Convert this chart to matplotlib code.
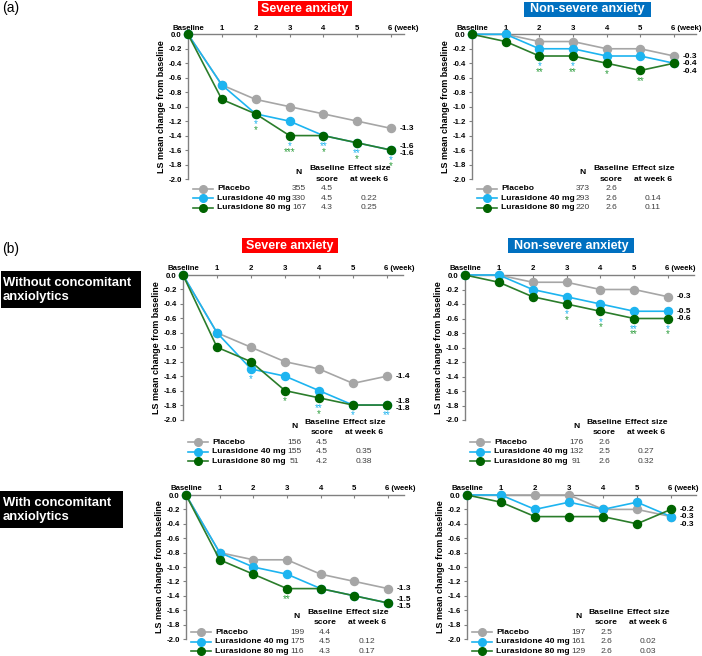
import matplotlib
matplotlib.use('Agg')
import matplotlib.pyplot as plt
from matplotlib.patches import Rectangle
from matplotlib.lines import Line2D

plt.rcParams['font.family'] = ['Liberation Sans', 'DejaVu Sans']

W, H = 702, 656

# ---------------- data ----------------
weeks = [0, 1, 2, 3, 4, 5, 6]
week_labels = ['Baseline', '1', '2', '3', '4', '5', '6 (week)']
ytick_vals = [0.0, -0.2, -0.4, -0.6, -0.8, -1.0, -1.2, -1.4, -1.6, -1.8, -2.0]
series_names = ['Placebo', 'Lurasidone 40 mg', 'Lurasidone 80 mg']

# (a) severe anxiety
a_sev_placebo = [0, -0.7, -0.9, -1.0, -1.1, -1.2, -1.3]
a_sev_40 = [0, -0.7, -1.1, -1.2, -1.4, -1.5, -1.6]
a_sev_80 = [0, -0.9, -1.1, -1.4, -1.4, -1.5, -1.6]
a_sev_N = ['355', '330', '167']
a_sev_base = ['4.5', '4.5', '4.3']
a_sev_eff = ['', '0.22', '0.25']
a_sev_sig_weeks = [2, 3, 4, 5, 6]
a_sev_sig_40 = ['*', '*', '**', '**', '*']
a_sev_sig_80 = ['*', '***', '*', '*', '*']

# (a) non-severe anxiety
a_non_placebo = [0, 0, -0.1, -0.1, -0.2, -0.2, -0.3]
a_non_40 = [0, 0, -0.2, -0.2, -0.3, -0.3, -0.4]
a_non_80 = [0, -0.1, -0.3, -0.3, -0.4, -0.5, -0.4]
a_non_N = ['373', '293', '220']
a_non_base = ['2.6', '2.6', '2.6']
a_non_eff = ['', '0.14', '0.11']
a_non_sig_weeks = [2, 3, 4, 5]
a_non_sig_40 = ['*', '*', '', '']
a_non_sig_80 = ['**', '**', '*', '**']

# (b) without concomitant anxiolytics, severe
bwo_sev_placebo = [0, -0.8, -1.0, -1.2, -1.3, -1.5, -1.4]
bwo_sev_40 = [0, -0.8, -1.3, -1.4, -1.6, -1.8, -1.8]
bwo_sev_80 = [0, -1.0, -1.2, -1.6, -1.7, -1.8, -1.8]
bwo_sev_N = ['156', '155', '51']
bwo_sev_base = ['4.5', '4.5', '4.2']
bwo_sev_eff = ['', '0.35', '0.38']
bwo_sev_sig_weeks = [2, 3, 4, 5, 6]
bwo_sev_sig_40 = ['*', '', '**', '*', '**']
bwo_sev_sig_80 = ['', '*', '*', '', '']

# (b) without concomitant anxiolytics, non-severe
bwo_non_placebo = [0, 0, -0.1, -0.1, -0.2, -0.2, -0.3]
bwo_non_40 = [0, 0, -0.2, -0.3, -0.4, -0.5, -0.5]
bwo_non_80 = [0, -0.1, -0.3, -0.4, -0.5, -0.6, -0.6]
bwo_non_N = ['176', '132', '91']
bwo_non_base = ['2.6', '2.5', '2.6']
bwo_non_eff = ['', '0.27', '0.32']
bwo_non_sig_weeks = [3, 4, 5, 6]
bwo_non_sig_40 = ['*', '*', '**', '*']
bwo_non_sig_80 = ['*', '*', '**', '*']

# (b) with concomitant anxiolytics, severe
bw_sev_placebo = [0, -0.8, -0.9, -0.9, -1.1, -1.2, -1.3]
bw_sev_40 = [0, -0.8, -1.0, -1.1, -1.3, -1.4, -1.5]
bw_sev_80 = [0, -0.9, -1.1, -1.3, -1.3, -1.4, -1.5]
bw_sev_N = ['199', '175', '116']
bw_sev_base = ['4.4', '4.5', '4.3']
bw_sev_eff = ['', '0.12', '0.17']
bw_sev_sig_weeks = [3]
bw_sev_sig_40 = ['']
bw_sev_sig_80 = ['**']

# (b) with concomitant anxiolytics, non-severe
bw_non_placebo = [0, 0, 0, 0, -0.2, -0.2, -0.3]
bw_non_40 = [0, 0, -0.2, -0.1, -0.2, -0.1, -0.3]
bw_non_80 = [0, -0.1, -0.3, -0.3, -0.3, -0.4, -0.2]
bw_non_N = ['197', '161', '129']
bw_non_base = ['2.5', '2.6', '2.6']
bw_non_eff = ['', '0.02', '0.03']
bw_non_sig_weeks = []
bw_non_sig_40 = []
bw_non_sig_80 = []

# ---------------- style ----------------
c_pl = '#A6A6A6'
c_40 = '#1DB4F0'
c_80_line = '#2B7D2B'
c_80_mark = '#006400'
line_colors = [c_pl, c_40, c_80_line]
mark_colors = [c_pl, c_40, c_80_mark]
sig_colors = [c_40, '#2E9E3E']
axis_col = '#808080'
TFS = 6.1  # table font size


def fx(px):
    return px / W


def fy(py):
    return 1 - py / H


fig = plt.figure(figsize=(W / 100, H / 100), dpi=100)

panels = [
    dict(L=188, R=404, T=34.3, B=179, w6=391, ly=188.5,
         s=[a_sev_placebo, a_sev_40, a_sev_80], N=a_sev_N, base=a_sev_base, eff=a_sev_eff,
         sw=a_sev_sig_weeks, s40=a_sev_sig_40, s80=a_sev_sig_80),
    dict(L=472, R=696, T=34.3, B=179, w6=674, ly=188.5,
         s=[a_non_placebo, a_non_40, a_non_80], N=a_non_N, base=a_non_base, eff=a_non_eff,
         sw=a_non_sig_weeks, s40=a_non_sig_40, s80=a_non_sig_80),
    dict(L=183, R=403, T=275, B=419.5, w6=387, ly=442,
         s=[bwo_sev_placebo, bwo_sev_40, bwo_sev_80], N=bwo_sev_N, base=bwo_sev_base, eff=bwo_sev_eff,
         sw=bwo_sev_sig_weeks, s40=bwo_sev_sig_40, s80=bwo_sev_sig_80),
    dict(L=465, R=694, T=275, B=420, w6=668, ly=442,
         s=[bwo_non_placebo, bwo_non_40, bwo_non_80], N=bwo_non_N, base=bwo_non_base, eff=bwo_non_eff,
         sw=bwo_non_sig_weeks, s40=bwo_non_sig_40, s80=bwo_non_sig_80),
    dict(L=186, R=404, T=495, B=639, w6=388, ly=632,
         s=[bw_sev_placebo, bw_sev_40, bw_sev_80], N=bw_sev_N, base=bw_sev_base, eff=bw_sev_eff,
         sw=bw_sev_sig_weeks, s40=bw_sev_sig_40, s80=bw_sev_sig_80),
    dict(L=467, R=696, T=495, B=639, w6=671, ly=632,
         s=[bw_non_placebo, bw_non_40, bw_non_80], N=bw_non_N, base=bw_non_base, eff=bw_non_eff,
         sw=bw_non_sig_weeks, s40=bw_non_sig_40, s80=bw_non_sig_80),
]

for p in panels:
    L, R, T, B = p['L'], p['R'], p['T'], p['B']
    ax = fig.add_axes([fx(L), fy(B), fx(R - L), (B - T) / H])
    spacing = (p['w6'] - L) / 6.0
    xmax = (R - L) / spacing
    ax.set_xlim(0, xmax)
    ax.set_ylim(-2.0, 0.0)
    ppu = (B - T) / 2.0  # pixels per unit

    for i, ser in enumerate(p['s']):
        ax.plot(weeks, ser, color=line_colors[i], lw=1.2, marker='o', ms=5.8,
                mfc=mark_colors[i], mec=mark_colors[i], clip_on=False, zorder=3 + i)

    for sp in ['right', 'bottom']:
        ax.spines[sp].set_visible(False)
    for sp in ['left', 'top']:
        ax.spines[sp].set_color(axis_col)
        ax.spines[sp].set_linewidth(1.0)
    ax.xaxis.tick_top()
    ax.set_xticks(weeks)
    ax.set_xticklabels(week_labels)
    ax.tick_params(axis='x', direction='in', length=2.5, color=axis_col, pad=2,
                   labelsize=5.6)
    for t in ax.get_xticklabels():
        t.set_fontweight('bold')
    lab6 = ax.get_xticklabels()[-1]
    lab6.set_horizontalalignment('left')
    lab6.set_transform(lab6.get_transform() +
                       matplotlib.transforms.ScaledTranslation(-2.2 / 72, 0, fig.dpi_scale_trans))
    ax.set_yticks(ytick_vals)
    ax.set_yticklabels(['%.1f' % v for v in ytick_vals])
    ax.tick_params(axis='y', direction='out', length=2.5, color=axis_col, pad=2,
                   labelsize=5.6)
    for t in ax.get_yticklabels():
        t.set_fontweight('bold')
    ax.set_ylabel('LS mean change from baseline', fontsize=6.5, fontweight='bold', labelpad=2)
    ax.patch.set_alpha(0)

    # significance marks
    for wk, s40, s80 in zip(p['sw'], p['s40'], p['s80']):
        low = min(ser[wk] for ser in p['s'])
        off = 10.5
        for txt, col in [(s40, sig_colors[0]), (s80, sig_colors[1])]:
            if txt:
                ax.annotate(txt, (wk, low), xytext=(0, -off * 0.72), textcoords='offset points',
                            ha='center', va='center', fontsize=7, color=col,
                            annotation_clip=False)
                off += 5.5

    # end labels
    finals = [ser[-1] for ser in p['s']]
    order = sorted(range(3), key=lambda k: -finals[k])
    ypos = {}
    k = 0
    while k < 3:
        grp = [order[k]]
        while k + len(grp) < 3 and abs(finals[order[k + len(grp)]] - finals[order[k]]) < 1e-9:
            grp.append(order[k + len(grp)])
        n = len(grp)
        for j, g in enumerate(grp):
            ypos[g] = finals[g] * ppu * -1 + (j - (n - 1) / 2) * 7.5  # px below top
        k += n
    prev = None
    for g in order:
        if prev is not None and ypos[g] - prev < 7.5:
            ypos[g] = prev + 7.5
        prev = ypos[g]
    for g in range(3):
        ax.text(6, -ypos[g] / ppu, '%.1f' % finals[g], fontsize=6, fontweight='bold',
                ha='left', va='center', clip_on=False,
                transform=ax.transData + matplotlib.transforms.ScaledTranslation(
                    6 / 72, 0, fig.dpi_scale_trans))

    # legend table
    ly = p['ly']
    fig.text(fx(L + 111), fy(ly - 15.5), 'N', fontsize=TFS, fontweight='bold', ha='center', va='center')
    fig.text(fx(L + 139), fy(ly - 19.5), 'Baseline', fontsize=TFS, fontweight='bold', ha='center', va='center')
    fig.text(fx(L + 139), fy(ly - 9.5), 'score', fontsize=TFS, fontweight='bold', ha='center', va='center')
    fig.text(fx(L + 181), fy(ly - 19.5), 'Effect size', fontsize=TFS, fontweight='bold', ha='center', va='center')
    fig.text(fx(L + 181), fy(ly - 9.5), 'at week 6', fontsize=TFS, fontweight='bold', ha='center', va='center')
    for i in range(3):
        yy = ly + i * 9.7
        fig.add_artist(Line2D([fx(L + 5), fx(L + 25)], [fy(yy), fy(yy)], color=line_colors[i],
                              lw=1.2, transform=fig.transFigure))
        fig.add_artist(Line2D([fx(L + 15)], [fy(yy)], color=mark_colors[i], marker='o', ms=5.5,
                              transform=fig.transFigure))
        fig.text(fx(L + 29), fy(yy), series_names[i], fontsize=TFS, fontweight='bold',
                 ha='left', va='center')
        fig.text(fx(L + 111), fy(yy), p['N'][i], fontsize=TFS, color='#404040', ha='center', va='center')
        fig.text(fx(L + 139), fy(yy), p['base'][i], fontsize=TFS, color='#404040', ha='center', va='center')
        if p['eff'][i]:
            fig.text(fx(L + 181), fy(yy), p['eff'][i], fontsize=TFS, color='#404040', ha='center', va='center')


def box(x0, y0, x1, y1, color, text, tx, ty, size, ha='center'):
    fig.add_artist(Rectangle((fx(x0), fy(y1)), fx(x1 - x0), (y1 - y0) / H, facecolor=color,
                             edgecolor='none', transform=fig.transFigure))
    fig.text(fx(tx), fy(ty), text, color='white', fontsize=size, fontweight='bold',
             ha=ha, va='center', linespacing=1.3)


box(258, 1, 352, 16, '#FF0000', 'Severe anxiety', 305, 8.8, 9)
box(524, 2, 651, 16.5, '#0070C0', 'Non-severe anxiety', 587.5, 9.3, 9)
box(242, 238, 338, 253, '#FF0000', 'Severe anxiety', 290, 245.8, 9)
box(508, 238, 634, 253, '#0070C0', 'Non-severe anxiety', 571, 245.8, 9)
box(1, 271, 141, 308, '#000000', 'Without concomitant\nanxiolytics', 3, 290, 9.4, ha='left')
box(0, 491, 123, 528, '#000000', 'With concomitant\nanxiolytics', 3, 510, 9.4, ha='left')

fig.text(fx(2), fy(8), '(a)', fontsize=10, ha='left', va='center')
fig.text(fx(2), fy(249), '(b)', fontsize=10, ha='left', va='center')

fig.savefig('out.png', dpi=100)
